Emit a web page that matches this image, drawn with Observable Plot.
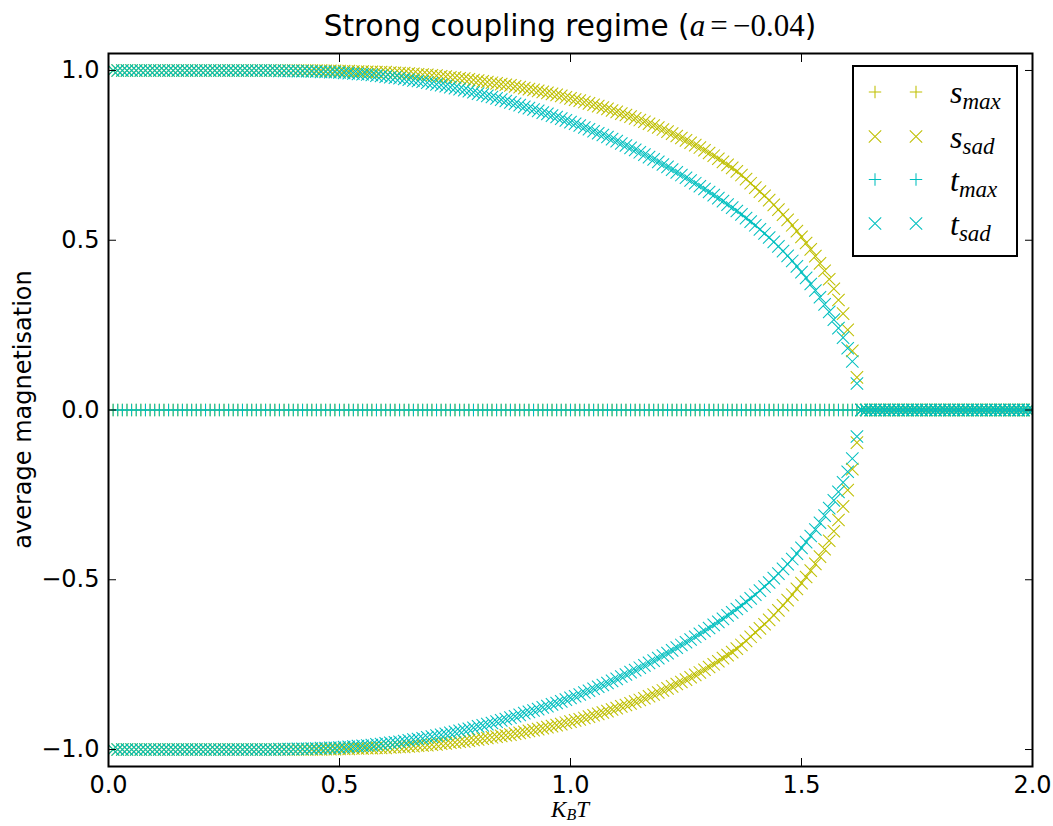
<!DOCTYPE html>
<html>
<head>
<meta charset="utf-8">
<script src="https://cdn.jsdelivr.net/npm/d3@7"></script>
<script src="https://cdn.jsdelivr.net/npm/@observablehq/plot@0.6"></script>
<style>
  html, body { margin: 0; padding: 0; background: #ffffff; }
  #chart svg { display: block; }
</style>
</head>
<body>
<div id="chart"></div>
<script>
// ---------- data ----------
const temperature = [
  0.01,0.02,0.03,0.04,0.05,0.06,0.07,0.08,0.09,0.10,
  0.11,0.12,0.13,0.14,0.15,0.16,0.17,0.18,0.19,0.20,
  0.21,0.22,0.23,0.24,0.25,0.26,0.27,0.28,0.29,0.30,
  0.31,0.32,0.33,0.34,0.35,0.36,0.37,0.38,0.39,0.40,
  0.41,0.42,0.43,0.44,0.45,0.46,0.47,0.48,0.49,0.50,
  0.51,0.52,0.53,0.54,0.55,0.56,0.57,0.58,0.59,0.60,
  0.61,0.62,0.63,0.64,0.65,0.66,0.67,0.68,0.69,0.70,
  0.71,0.72,0.73,0.74,0.75,0.76,0.77,0.78,0.79,0.80,
  0.81,0.82,0.83,0.84,0.85,0.86,0.87,0.88,0.89,0.90,
  0.91,0.92,0.93,0.94,0.95,0.96,0.97,0.98,0.99,1.00,
  1.01,1.02,1.03,1.04,1.05,1.06,1.07,1.08,1.09,1.10,
  1.11,1.12,1.13,1.14,1.15,1.16,1.17,1.18,1.19,1.20,
  1.21,1.22,1.23,1.24,1.25,1.26,1.27,1.28,1.29,1.30,
  1.31,1.32,1.33,1.34,1.35,1.36,1.37,1.38,1.39,1.40,
  1.41,1.42,1.43,1.44,1.45,1.46,1.47,1.48,1.49,1.50,
  1.51,1.52,1.53,1.54,1.55,1.56,1.57,1.58,1.59,1.60,
  1.61,1.62,1.63,1.64,1.65,1.66,1.67,1.68,1.69,1.70,
  1.71,1.72,1.73,1.74,1.75,1.76,1.77,1.78,1.79,1.80,
  1.81,1.82,1.83,1.84,1.85,1.86,1.87,1.88,1.89,1.90,
  1.91,1.92,1.93,1.94,1.95,1.96,1.97,1.98,1.99,2.00
];

// maxima (+ markers): all at zero magnetisation
const sMax = [
  0,0,0,0,0,0,0,0,0,0, 0,0,0,0,0,0,0,0,0,0, 0,0,0,0,0,0,0,0,0,0, 0,0,0,0,0,0,0,0,0,0,
  0,0,0,0,0,0,0,0,0,0, 0,0,0,0,0,0,0,0,0,0, 0,0,0,0,0,0,0,0,0,0, 0,0,0,0,0,0,0,0,0,0,
  0,0,0,0,0,0,0,0,0,0, 0,0,0,0,0,0,0,0,0,0, 0,0,0,0,0,0,0,0,0,0, 0,0,0,0,0,0,0,0,0,0,
  0,0,0,0,0,0,0,0,0,0, 0,0,0,0,0,0,0,0,0,0, 0,0,0,0,0,0,0,0,0,0, 0,0,0,0,0,0,0,0,0,0,
  0,0,0,0,0,0,0,0,0,0, 0,0,0,0,0,0,0,0,0,0, 0,0,0,0,0,0,0,0,0,0, 0,0,0,0,0,0,0,0,0,0
];
const tMax = [
  0,0,0,0,0,0,0,0,0,0, 0,0,0,0,0,0,0,0,0,0, 0,0,0,0,0,0,0,0,0,0, 0,0,0,0,0,0,0,0,0,0,
  0,0,0,0,0,0,0,0,0,0, 0,0,0,0,0,0,0,0,0,0, 0,0,0,0,0,0,0,0,0,0, 0,0,0,0,0,0,0,0,0,0,
  0,0,0,0,0,0,0,0,0,0, 0,0,0,0,0,0,0,0,0,0, 0,0,0,0,0,0,0,0,0,0, 0,0,0,0,0,0,0,0,0,0,
  0,0,0,0,0,0,0,0,0,0, 0,0,0,0,0,0,0,0,0,0, 0,0,0,0,0,0,0,0,0,0, 0,0,0,0,0,0,0,0,0,0,
  0,0,0,0,0,0,0,0,0,0, 0,0,0,0,0,0,0,0,0,0, 0,0,0,0,0,0,0,0,0,0, 0,0,0,0,0,0,0,0,0,0
];

// saddles (x markers): upper branch magnitude; the lower branch is its mirror image
const sSad = [
  1,1,1,1,1,1,1,1,1,1,
  1,1,1,1,1,1,1,1,1,1,
  1,1,1,1,1,1,1,1,1,1,
  1,1,1,1,1,1,1,1,1,1,
  1,1,1,1,1,1.000,0.999,0.999,0.999,0.998,
  0.998,0.998,0.997,0.997,0.997,0.996,0.996,0.995,0.995,0.995,
  0.994,0.993,0.992,0.992,0.991,0.990,0.989,0.988,0.987,0.986,
  0.985,0.983,0.982,0.980,0.979,0.977,0.976,0.974,0.972,0.970,
  0.968,0.966,0.964,0.962,0.960,0.958,0.956,0.953,0.951,0.948,
  0.945,0.943,0.940,0.937,0.934,0.931,0.928,0.925,0.921,0.918,
  0.914,0.911,0.907,0.903,0.899,0.895,0.891,0.887,0.882,0.878,
  0.873,0.869,0.864,0.859,0.854,0.849,0.843,0.838,0.832,0.826,
  0.820,0.814,0.807,0.801,0.794,0.787,0.780,0.773,0.765,0.757,
  0.749,0.740,0.731,0.722,0.713,0.703,0.692,0.680,0.668,0.655,
  0.643,0.631,0.618,0.604,0.590,0.575,0.560,0.544,0.527,0.510,
  0.492,0.473,0.453,0.432,0.410,0.385,0.357,0.324,0.284,0.236,
  0.174,0.096,0,0,0,0,0,0,0,0,
  0,0,0,0,0,0,0,0,0,0,
  0,0,0,0,0,0,0,0,0,0,
  0,0,0,0,0,0,0,0,0,0
];
const tSad = [
  1,1,1,1,1,1,1,1,1,1,
  1,1,1,1,1,1,1,1,1,1,
  1,1,1,1,1,1,1,1,1,1,
  1,1,1,1,1,1,0.999,0.999,0.999,0.999,
  0.998,0.998,0.998,0.997,0.997,0.996,0.996,0.995,0.995,0.994,
  0.993,0.992,0.991,0.990,0.989,0.988,0.987,0.985,0.984,0.982,
  0.980,0.979,0.977,0.975,0.973,0.971,0.969,0.967,0.964,0.962,
  0.959,0.957,0.954,0.951,0.948,0.945,0.942,0.939,0.936,0.932,
  0.929,0.925,0.922,0.918,0.914,0.910,0.906,0.902,0.898,0.893,
  0.889,0.885,0.881,0.876,0.872,0.867,0.863,0.858,0.853,0.848,
  0.843,0.838,0.832,0.827,0.821,0.815,0.810,0.804,0.798,0.792,
  0.785,0.779,0.772,0.766,0.759,0.752,0.745,0.738,0.731,0.723,
  0.716,0.708,0.700,0.692,0.684,0.676,0.668,0.659,0.651,0.642,
  0.633,0.624,0.615,0.605,0.596,0.586,0.576,0.565,0.555,0.544,
  0.532,0.520,0.508,0.495,0.482,0.468,0.454,0.439,0.423,0.406,
  0.389,0.371,0.352,0.332,0.311,0.289,0.266,0.241,0.213,0.182,
  0.143,0.078,0,0,0,0,0,0,0,0,
  0,0,0,0,0,0,0,0,0,0,
  0,0,0,0,0,0,0,0,0,0,
  0,0,0,0,0,0,0,0,0,0
];

const xTicks = [0, 0.5, 1.0, 1.5, 2.0];
const yTicks = [-1.0, -0.5, 0.0, 0.5, 1.0];

// ---------- styling ----------
const colorS = "#bfbf00";
const colorT = "#00bfbf";
const HALF = 6.2;
const plusSymbol = {
  draw(ctx) { ctx.moveTo(-HALF, 0); ctx.lineTo(HALF, 0); ctx.moveTo(0, -HALF); ctx.lineTo(0, HALF); }
};
const timesSymbol = {
  draw(ctx) { ctx.moveTo(-HALF, -HALF); ctx.lineTo(HALF, HALF); ctx.moveTo(-HALF, HALF); ctx.lineTo(HALF, -HALF); }
};

function rowsOf(values, sign) {
  return temperature.map((T, i) => ({T, m: sign * values[i]}));
}
function dots(values, sign, symbol, color) {
  return Plot.dot(rowsOf(values, sign), {
    x: "T", y: "m", symbol, r: 6, stroke: color, fill: "none", strokeWidth: 1.05, clip: true
  });
}

const fmt = d3.format(".1f");
const W = 1053, H = 826;
const mL = 108, mR = 21, mT = 53, mB = 60;

const chart = Plot.plot({
  width: W, height: H,
  marginLeft: mL, marginRight: mR, marginTop: mT, marginBottom: mB,
  style: {fontFamily: "DejaVu Sans", background: "#ffffff", color: "#000000", overflow: "visible"},
  x: {domain: [0, 2]},
  y: {domain: [-1.05, 1.05]},
  marks: [
    dots(sMax, 1, plusSymbol, colorS),
    dots(sSad, 1, timesSymbol, colorS),
    dots(sSad, -1, timesSymbol, colorS),
    dots(tMax, 1, plusSymbol, colorT),
    dots(tSad, 1, timesSymbol, colorT),
    dots(tSad, -1, timesSymbol, colorT),
    // inward ticks on all four sides
    Plot.axisX(xTicks, {anchor: "bottom", tickSize: 8, dy: -8, fill: "none", stroke: "#000", strokeWidth: 1, label: null}),
    Plot.axisX(xTicks, {anchor: "top", tickSize: 8, dy: 8, fill: "none", stroke: "#000", strokeWidth: 1, label: null}),
    Plot.axisY(yTicks, {anchor: "left", tickSize: 8, dx: 8, fill: "none", stroke: "#000", strokeWidth: 1, label: null}),
    Plot.axisY(yTicks, {anchor: "right", tickSize: 8, dx: -8, fill: "none", stroke: "#000", strokeWidth: 1, label: null}),
    // tick labels
    Plot.axisX(xTicks, {anchor: "bottom", tickSize: 0, tickPadding: 9, tickFormat: fmt, fontSize: 24, fill: "#000", label: null}),
    Plot.axisY(yTicks, {anchor: "left", tickSize: 0, tickPadding: 9, tickFormat: fmt, fontSize: 24, fill: "#000", label: null}),
    Plot.frame({stroke: "#000", strokeWidth: 2})
  ]
});
document.getElementById("chart").appendChild(chart);

// ---------- title, axis labels, legend ----------
const svg = d3.select(chart);
const plotCenterX = mL + (W - mL - mR) / 2;
const mathFont = "Liberation Serif";

const title = svg.append("text")
  .attr("x", plotCenterX).attr("y", 36)
  .attr("text-anchor", "middle")
  .attr("font-family", "DejaVu Sans").attr("font-size", 29.5).attr("fill", "#000");
title.append("tspan").text("Strong coupling regime (");
title.append("tspan").attr("font-family", mathFont).attr("font-style", "italic").attr("font-size", 31).text("a");
title.append("tspan").attr("font-family", mathFont).attr("font-size", 31).text("\u2006=\u2006\u22120.04");
title.append("tspan").text(")");

const xl = svg.append("text")
  .attr("x", plotCenterX).attr("y", 817)
  .attr("text-anchor", "middle")
  .attr("font-family", mathFont).attr("font-style", "italic").attr("font-size", 23).attr("fill", "#000");
xl.append("tspan").text("K");
xl.append("tspan").attr("font-size", 16).attr("dy", 3).text("B");
xl.append("tspan").attr("dy", -3).text("T");

svg.append("text")
  .attr("transform", `translate(31, ${mT + (H - mT - mB) / 2}) rotate(-90)`)
  .attr("text-anchor", "middle")
  .attr("font-family", "DejaVu Sans").attr("font-size", 24).attr("fill", "#000")
  .text("average magnetisation");

const legend = svg.append("g");
legend.append("rect")
  .attr("x", 853).attr("y", 66).attr("width", 164).attr("height", 190)
  .attr("fill", "#ffffff").attr("stroke", "#000").attr("stroke-width", 2);
const plusPath = `M${-HALF},0H${HALF}M0,${-HALF}V${HALF}`;
const timesPath = `M${-HALF},${-HALF}L${HALF},${HALF}M${-HALF},${HALF}L${HALF},${-HALF}`;
const legendItems = [
  {main: "s", sub: "max", path: plusPath, color: colorS},
  {main: "s", sub: "sad", path: timesPath, color: colorS},
  {main: "t", sub: "max", path: plusPath, color: colorT},
  {main: "t", sub: "sad", path: timesPath, color: colorT}
];
const rowY = [92, 136.5, 179.5, 223.5];
legendItems.forEach((d, i) => {
  const y = rowY[i];
  [875, 916].forEach(x => {
    legend.append("path").attr("d", d.path).attr("transform", `translate(${x},${y})`)
      .attr("fill", "none").attr("stroke", d.color).attr("stroke-width", 1.05);
  });
  const t = legend.append("text")
    .attr("x", 950).attr("y", y + 11)
    .attr("text-anchor", "start")
    .attr("font-family", mathFont).attr("font-style", "italic").attr("font-size", 32).attr("fill", "#000");
  t.append("tspan").text(d.main);
  t.append("tspan").attr("font-size", 23).attr("dy", 6).text(d.sub);
});
</script>
</body>
</html>
